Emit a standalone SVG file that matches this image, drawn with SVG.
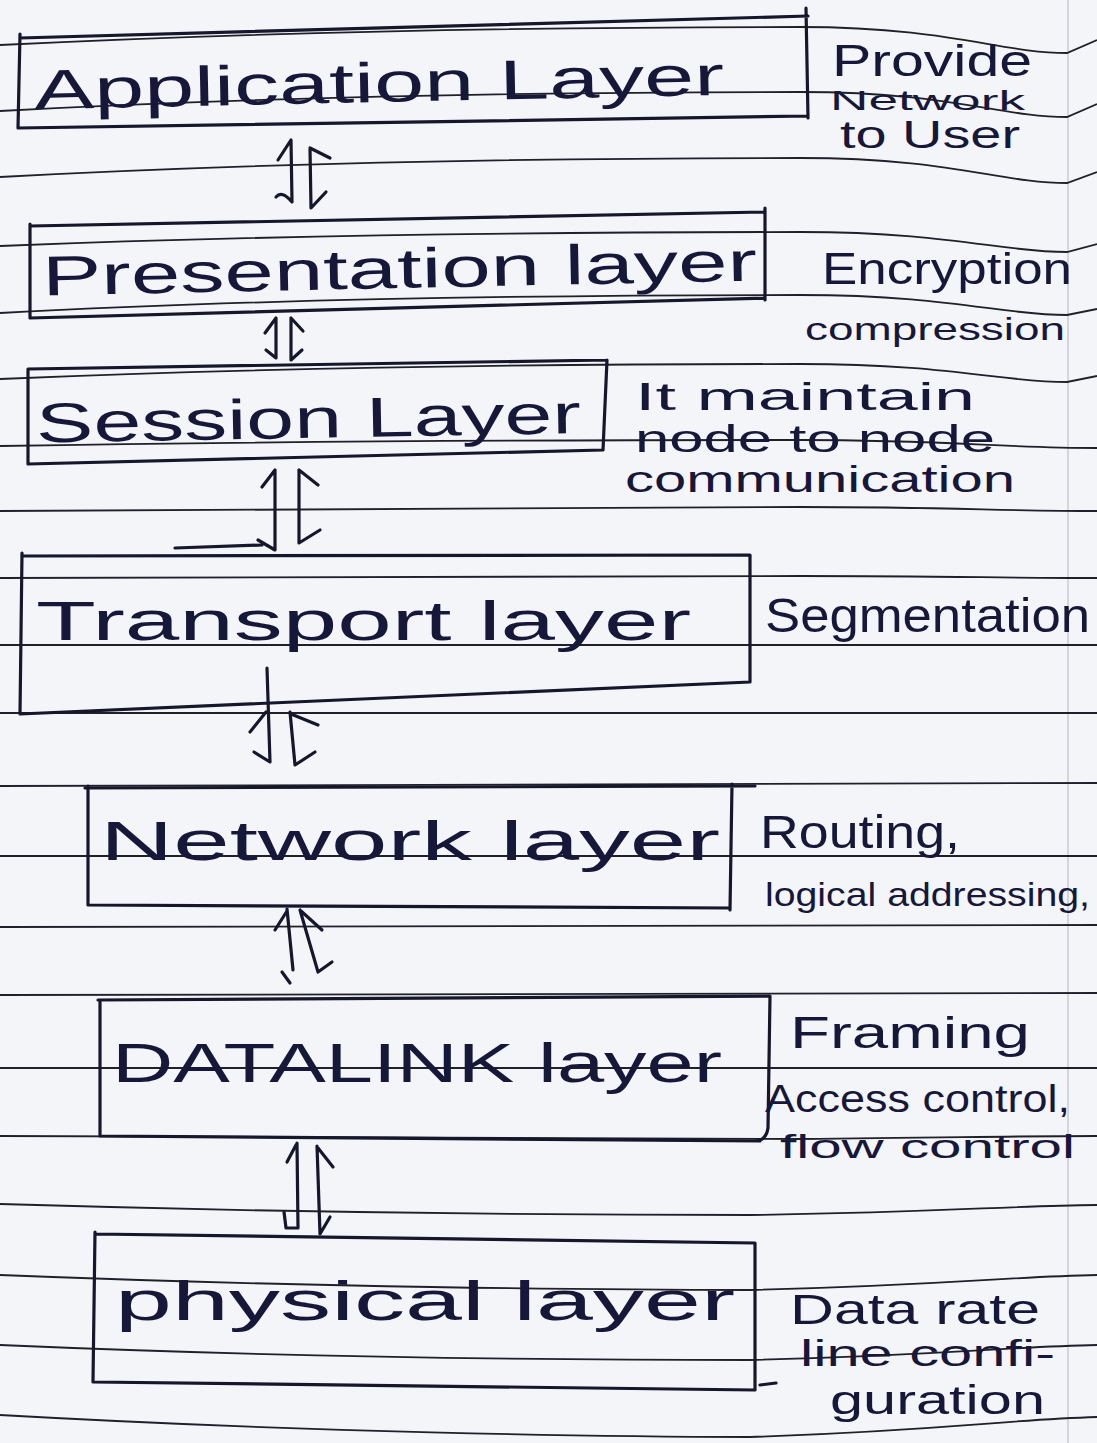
<svg xmlns="http://www.w3.org/2000/svg" width="1097" height="1443" viewBox="0 0 1097 1443">
<style>
.rule{fill:none;stroke:#202028;stroke-width:1.8}
.box{fill:none;stroke:#16162c;stroke-width:3.2;stroke-linecap:round;stroke-linejoin:round}
.conn{fill:none;stroke:#16162c;stroke-width:3.2;stroke-linecap:round;stroke-linejoin:round}
.t{fill:#17173a;font-family:"Liberation Sans","DejaVu Sans",sans-serif}
.big{font-size:56px}
</style>
<rect width="1097" height="1443" fill="#f4f5f9"/>
<line x1="1068" y1="0" x2="1068" y2="1443" stroke="#c9cad3" stroke-width="1.5"/>
<g id="rules">
<path class="rule" d="M0,45 C300,30 600,27 800,27 C950,27 1000,53 1067,53 L1097,40"/>
<path class="rule" d="M0,111 C300,95 600,92 800,92 C950,92 1000,117 1067,117 L1097,104"/>
<path class="rule" d="M0,177 C300,161 600,158 800,158 C950,158 1000,183 1067,183 L1097,172"/>
<path class="rule" d="M0,246 C300,234 600,232 800,232 C950,232 1000,252 1067,252 L1097,244"/>
<path class="rule" d="M0,313 C300,297 600,295 800,295 C950,295 1000,315 1067,315 L1097,309"/>
<path class="rule" d="M0,379 C300,366 600,364 800,364 C950,364 1000,382 1067,382 L1097,376"/>
<path class="rule" d="M0,446 C300,441 600,440 800,440 C950,440 1000,448 1097,448"/>
<path class="rule" d="M0,511 C300,508 600,507 800,507 C950,507 1000,511 1097,511"/>
<path class="rule" d="M0,578 C300,577 600,576 800,576 C950,576 1000,578 1097,578"/>
<path class="rule" d="M0,645 L1097,645"/>
<path class="rule" d="M0,713 L1097,713"/>
<path class="rule" d="M0,786 L1097,783"/>
<path class="rule" d="M0,856 L1097,856"/>
<path class="rule" d="M0,927 L1097,925"/>
<path class="rule" d="M0,995 L1097,993"/>
<path class="rule" d="M0,1068 L1097,1068"/>
<path class="rule" d="M0,1136 C300,1139 600,1140 800,1139 C950,1138 1000,1136 1097,1136"/>
<path class="rule" d="M0,1204 C300,1213 600,1215 750,1215 C950,1212 1000,1206 1097,1205"/>
<path class="rule" d="M0,1275 C300,1287 600,1290 750,1290 C950,1285 1000,1277 1097,1275"/>
<path class="rule" d="M0,1345 C300,1358 600,1360 750,1360 C950,1355 1000,1347 1097,1345"/>
<path class="rule" d="M0,1415 C300,1432 600,1437 750,1437 C950,1430 1000,1420 1097,1417"/>
</g>
<g id="application">
<path class="box" d="M20,38 L808,16 M20,34 L18,128 M18,128 L808,116 M806,8 L808,118"/>
<text class="t big" x="34" y="102" textLength="690" lengthAdjust="spacingAndGlyphs" transform="rotate(-1.2 380 80)">Application Layer</text>
</g>
<g id="application-note">
<text class="t" x="832" y="76" font-size="44" textLength="200" lengthAdjust="spacingAndGlyphs">Provide</text>
<text class="t" x="830" y="110" font-size="28" textLength="195" lengthAdjust="spacingAndGlyphs">Network</text>
<text class="t" x="840" y="148" font-size="38" textLength="180" lengthAdjust="spacingAndGlyphs">to User</text>
</g>
<g id="presentation">
<path class="box" d="M30,226 L765,212 M30,224 L30,318 M30,318 L765,298 M765,208 L765,300"/>
<text class="t big" x="42" y="288" textLength="715" lengthAdjust="spacingAndGlyphs" transform="rotate(-1.2 400 270)">Presentation layer</text>
</g>
<g id="presentation-note">
<text class="t" x="822" y="284" font-size="44" textLength="250" lengthAdjust="spacingAndGlyphs">Encryption</text>
<text class="t" x="805" y="340" font-size="32" textLength="260" lengthAdjust="spacingAndGlyphs">compression</text>
</g>
<g id="session">
<path class="box" d="M28,369 L607,360 M28,369 L28,464 M28,464 L603,450 M607,360 L603,450"/>
<text class="t big" x="36" y="438" textLength="545" lengthAdjust="spacingAndGlyphs" transform="rotate(-1 300 420)">Session Layer</text>
</g>
<g id="session-note">
<text class="t" x="635" y="410" font-size="38" textLength="340" lengthAdjust="spacingAndGlyphs">It maintain</text>
<text class="t" x="635" y="452" font-size="38" textLength="360" lengthAdjust="spacingAndGlyphs">node to node</text>
<text class="t" x="625" y="492" font-size="36" textLength="390" lengthAdjust="spacingAndGlyphs">communication</text>
</g>
<g id="transport">
<path class="box" d="M24,556 L750,555 M22,553 L20,714 M20,714 L750,682 M750,555 L750,682 M175,548 L262,545"/>
<text class="t big" x="36" y="640" textLength="655" lengthAdjust="spacingAndGlyphs">Transport layer</text>
</g>
<g id="transport-note">
<text class="t" x="765" y="632" font-size="48" textLength="325" lengthAdjust="spacingAndGlyphs">Segmentation</text>
</g>
<g id="network">
<path class="box" d="M85,788 L755,786 M88,786 L88,905 M88,905 L730,908 M732,784 L730,910"/>
<text class="t big" x="100" y="860" textLength="620" lengthAdjust="spacingAndGlyphs">Network layer</text>
</g>
<g id="network-note">
<text class="t" x="760" y="848" font-size="46" textLength="200" lengthAdjust="spacingAndGlyphs">Routing,</text>
<text class="t" x="765" y="906" font-size="34" textLength="325" lengthAdjust="spacingAndGlyphs">logical addressing,</text>
</g>
<g id="datalink">
<path class="box" d="M98,1000 L770,996 M100,1000 L100,1136 M100,1136 L760,1141 M770,996 L768,1128 Q766,1141 755,1141"/>
<text class="t big" x="112" y="1082" textLength="610" lengthAdjust="spacingAndGlyphs">DATALINK layer</text>
</g>
<g id="datalink-note">
<text class="t" x="790" y="1048" font-size="44" textLength="240" lengthAdjust="spacingAndGlyphs">Framing</text>
<text class="t" x="765" y="1112" font-size="38" textLength="305" lengthAdjust="spacingAndGlyphs">Access control,</text>
<text class="t" x="780" y="1158" font-size="34" textLength="295" lengthAdjust="spacingAndGlyphs">flow control</text>
</g>
<g id="physical">
<path class="box" d="M95,1234 L755,1243 M95,1232 L93,1382 M93,1382 L755,1390 M755,1243 L755,1390 M760,1385 L776,1383"/>
<text class="t big" x="115" y="1320" textLength="620" lengthAdjust="spacingAndGlyphs">physical layer</text>
</g>
<g id="physical-note">
<text class="t" x="790" y="1324" font-size="42" textLength="250" lengthAdjust="spacingAndGlyphs">Data rate</text>
<text class="t" x="800" y="1366" font-size="36" textLength="255" lengthAdjust="spacingAndGlyphs">line confi-</text>
<text class="t" x="830" y="1414" font-size="40" textLength="215" lengthAdjust="spacingAndGlyphs">guration</text>
</g>
<g id="connectors">
<path class="conn" d="M291,140 L292,202 Q282,190 276,197 M291,140 L278,160 M310,148 L311,208 L326,192 M310,148 L330,158"/>
<path class="conn" d="M276,318 L276,358 L266,350 M276,318 L265,333 M291,318 L291,360 L302,350 M291,318 L303,331"/>
<path class="conn" d="M275,470 L275,550 L258,540 M275,470 L262,487 M299,470 L299,543 L320,530 M299,470 L318,485"/>
<path class="conn" d="M267,668 L270,762 L254,752 M266,712 L250,732 M290,712 L295,765 L315,752 M291,714 L318,725"/>
<path class="conn" d="M287,909 L293,970 M282,972 L290,983 M287,911 L275,930 M300,910 L318,972 L332,962 M301,911 L322,930"/>
<path class="conn" d="M297,1143 L298,1228 L286,1228 L284,1212 M296,1145 L287,1162 M317,1146 L320,1234 L330,1217 M318,1148 L333,1167"/>
</g>
</svg>
